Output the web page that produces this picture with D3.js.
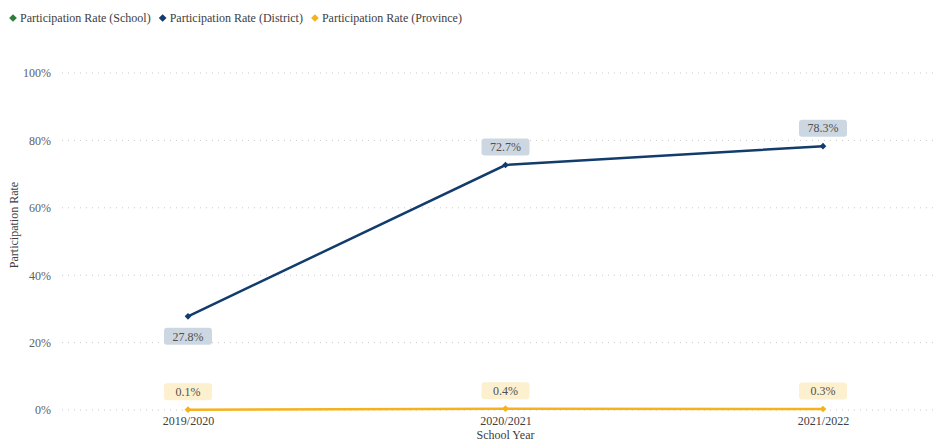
<!DOCTYPE html>
<html>
<head>
<meta charset="utf-8">
<script src="https://cdn.jsdelivr.net/npm/d3@7"></script>
<style>
  body { margin: 0; background: #fff; }
  svg text { font-family: "Liberation Serif", "Times New Roman", serif; }
</style>
</head>
<body>
<div id="chart"></div>
<script>
// Chart data
var years = ["2019/2020", "2020/2021", "2021/2022"];
var seriesNames = ["Participation Rate (School)", "Participation Rate (District)", "Participation Rate (Province)"];
var seriesColors = ["#2e7d3a", "#123c6b", "#f5b21c"];
var labelFills = ["#cfe3d2", "#cdd7e2", "#fdf0cf"];
var schoolRate = [];
var districtRate = [27.8, 72.7, 78.3];
var provinceRate = [0.1, 0.4, 0.3];
var yTicks = [0, 20, 40, 60, 80, 100];

var width = 943, height = 443;
var fontFam = "'Liberation Serif', 'Times New Roman', serif";

var svg = d3.select("#chart").append("svg")
    .attr("width", width)
    .attr("height", height)
    .attr("font-family", fontFam);

// Scales
var x = d3.scalePoint().domain(years).range([188, 823]);
var y = d3.scaleLinear().domain([0, 100]).range([410, 73]);

// Gridlines
svg.append("g")
   .selectAll("line")
   .data(yTicks)
   .enter()
   .append("line")
   .attr("x1", 62)
   .attr("x2", 938)
   .attr("y1", function(d) { return y(d); })
   .attr("y2", function(d) { return y(d); })
   .attr("stroke", "#c8c8c8")
   .attr("stroke-dasharray", "1,5");

// Y axis
var yAxis = svg.append("g")
   .attr("transform", "translate(54,0)")
   .call(d3.axisLeft(y).tickValues(yTicks).tickSize(0).tickFormat(function(d) { return d + "%"; }));
yAxis.select(".domain").remove();
yAxis.attr("font-family", fontFam).attr("font-size", 12);
yAxis.selectAll("text").attr("fill", "#606060");

// X axis
var xAxis = svg.append("g")
   .attr("transform", "translate(0,413)")
   .call(d3.axisBottom(x).tickSize(0));
xAxis.select(".domain").remove();
xAxis.attr("font-family", fontFam).attr("font-size", 12);
xAxis.selectAll("text").attr("fill", "#404040");

// Axis titles
svg.append("text")
   .attr("x", x(years[1]))
   .attr("y", 439)
   .attr("text-anchor", "middle")
   .attr("fill", "#404040")
   .attr("font-size", 12)
   .text("School Year");

svg.append("text")
   .attr("transform", "translate(18,225) rotate(-90)")
   .attr("text-anchor", "middle")
   .attr("fill", "#404040")
   .attr("font-size", 12)
   .text("Participation Rate");

// Lines
var line = d3.line()
   .x(function(d, i) { return x(years[i]); })
   .y(function(d) { return y(d); });

var allSeries = [schoolRate, districtRate, provinceRate];
var diamond = d3.symbol().type(d3.symbolSquare).size(22);

allSeries.forEach(function(vals, s) {
    if (!vals.length) return;
    svg.append("path")
       .datum(vals)
       .attr("fill", "none")
       .attr("stroke", seriesColors[s])
       .attr("stroke-width", 2.5)
       .attr("d", line);

    svg.selectAll(".pt" + s)
       .data(vals)
       .enter()
       .append("path")
       .attr("class", "pt" + s)
       .attr("transform", function(d, i) { return "translate(" + x(years[i]) + "," + y(d) + ") rotate(45)"; })
       .attr("d", diamond)
       .attr("fill", seriesColors[s]);
});

// Data labels
function addLabels(vals, s, offsetFn) {
    var g = svg.selectAll(".lbl" + s)
       .data(vals)
       .enter()
       .append("g")
       .attr("class", "lbl" + s)
       .attr("transform", function(d, i) { return "translate(" + x(years[i]) + "," + (y(d) + offsetFn(d, i)) + ")"; });
    g.append("rect")
       .attr("x", -24)
       .attr("y", -8.5)
       .attr("width", 48)
       .attr("height", 17)
       .attr("rx", 3)
       .attr("fill", labelFills[s]);
    g.append("text")
       .attr("text-anchor", "middle")
       .attr("dy", "0.35em")
       .attr("fill", "#505050")
       .attr("font-size", 12)
       .text(function(d) { return d.toFixed(1) + "%"; });
}

addLabels(districtRate, 1, function(d, i) { return i === 0 ? 20 : -18; });
addLabels(provinceRate, 2, function() { return -18; });

// Legend
var legend = svg.append("g").attr("transform", "translate(0,18)");
var lx = 8;
seriesNames.forEach(function(name, s) {
    legend.append("path")
       .attr("transform", "translate(" + (lx + 5) + ",0) rotate(45)")
       .attr("d", d3.symbol().type(d3.symbolSquare).size(30))
       .attr("fill", seriesColors[s]);
    var t = legend.append("text")
       .attr("x", lx + 12)
       .attr("dy", "0.35em")
       .attr("fill", "#404040")
       .attr("font-size", 12)
       .text(name);
    lx += 12 + t.node().getComputedTextLength() + 7;
});
</script>
</body>
</html>
